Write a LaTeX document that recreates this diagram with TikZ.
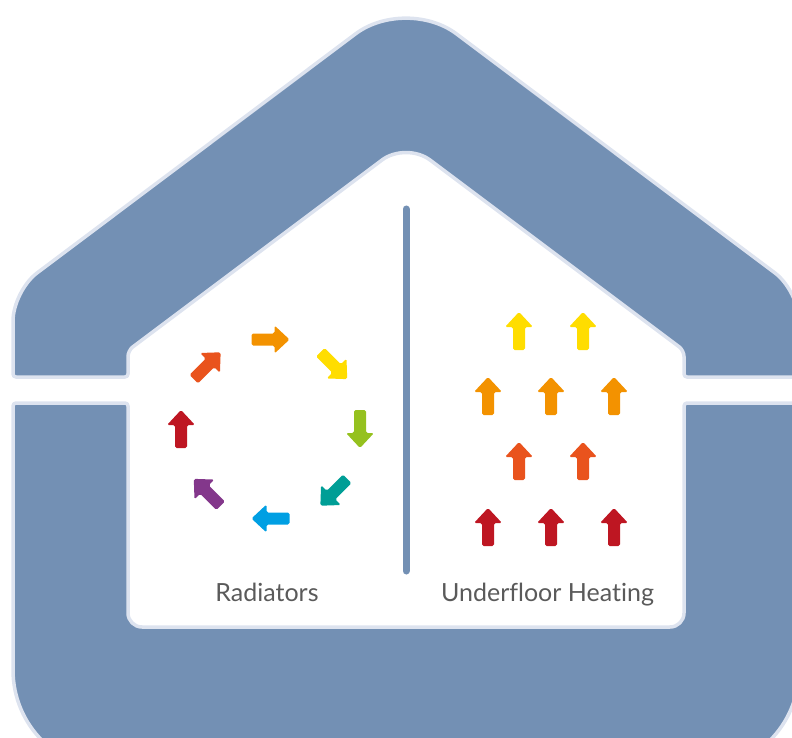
\documentclass[tikz,border=0pt]{standalone}
\usepackage{fontspec}
\setmainfont{Lato}[Ligatures=NoCommon]
\usetikzlibrary{calc}

\definecolor{HouseBlue}{HTML}{7390B4}
\definecolor{HouseEdge}{HTML}{DDE3EF}
\definecolor{LabelGrey}{HTML}{5A5A5A}
\definecolor{HeatRed}{HTML}{BE1622}
\definecolor{HeatFlame}{HTML}{E9531D}
\definecolor{HeatOrange}{HTML}{F39200}
\definecolor{HeatYellow}{HTML}{FFDD00}
\definecolor{HeatGreen}{HTML}{95C11F}
\definecolor{HeatTeal}{HTML}{009E96}
\definecolor{HeatBlue}{HTML}{009FE3}
\definecolor{HeatPurple}{HTML}{83378B}

\tikzset{
  wall/.style={fill=HouseBlue,draw=HouseEdge,line width=3.5pt,line join=round},
  heatarrow/.pic={
    \fill[rounded corners=1.6pt] (-19,-6) -- (4,-6) -- (4,-14) -- (19,0)
      -- (4,14) -- (4,6) -- (-19,6) -- cycle;
  },
  roomlabel/.style={text=LabelGrey,font=\fontsize{25}{30}\selectfont,anchor=base},
}

\begin{document}
\begin{tikzpicture}[x=1pt,y=-1pt]
    \useasboundingbox (0,0) rectangle (792,738);
    \clip (0,0) rectangle (792,738);
    % roof piece
    \draw[wall,rounded corners=3pt] (13,377)
      [rounded corners=30pt] -- (13,291)
      [rounded corners=63pt] -- (406,-4)
      [rounded corners=30pt] -- (799,291)
      [rounded corners=3pt] -- (799,377) -- (684,377)
      [rounded corners=6pt] -- (684,350.5)
      [rounded corners=30pt] -- (406,142)
      [rounded corners=6pt] -- (128,350.5)
      [rounded corners=3pt] -- (128,377) -- cycle;
    % walls and floor
    \draw[wall,rounded corners=3pt] (13,403)
      [rounded corners=100pt] -- (13,770) -- (799,770)
      [rounded corners=3pt] -- (799,403) -- (684,403)
      [rounded corners=14pt] -- (684,627) -- (128,627)
      [rounded corners=3pt] -- (128,403) -- cycle;
    % divider
    \draw[HouseBlue,line width=7pt,line cap=round] (406,209) -- (406,571);

    % radiators
    \coordinate (radcentre) at (270.5,429);
    \foreach \ang/\dir/\col in {-90/0/HeatOrange,-45/-45/HeatYellow,0/-90/HeatGreen,
        45/-135/HeatTeal,90/180/HeatBlue,135/135/HeatPurple,180/90/HeatRed,225/45/HeatFlame}
      \pic[\col,rotate=\dir] at ($(radcentre)+(\ang:89.5)$) {heatarrow};

    % underfloor heating
    \foreach \px/\py/\col in {519/331/HeatYellow,583/331/HeatYellow,
        488/396/HeatOrange,551/396/HeatOrange,614/396/HeatOrange,
        519/461/HeatFlame,583/461/HeatFlame,
        488/527/HeatRed,551/527/HeatRed,614/527/HeatRed}
      \pic[\col,rotate=90] at (\px,\py) {heatarrow};

    \node[roomlabel] (radlabel) at (267,601) {Radiators};
    \node[roomlabel] (floorlabel) at (547.5,601) {Underfloor Heating};
\end{tikzpicture}
\end{document}
